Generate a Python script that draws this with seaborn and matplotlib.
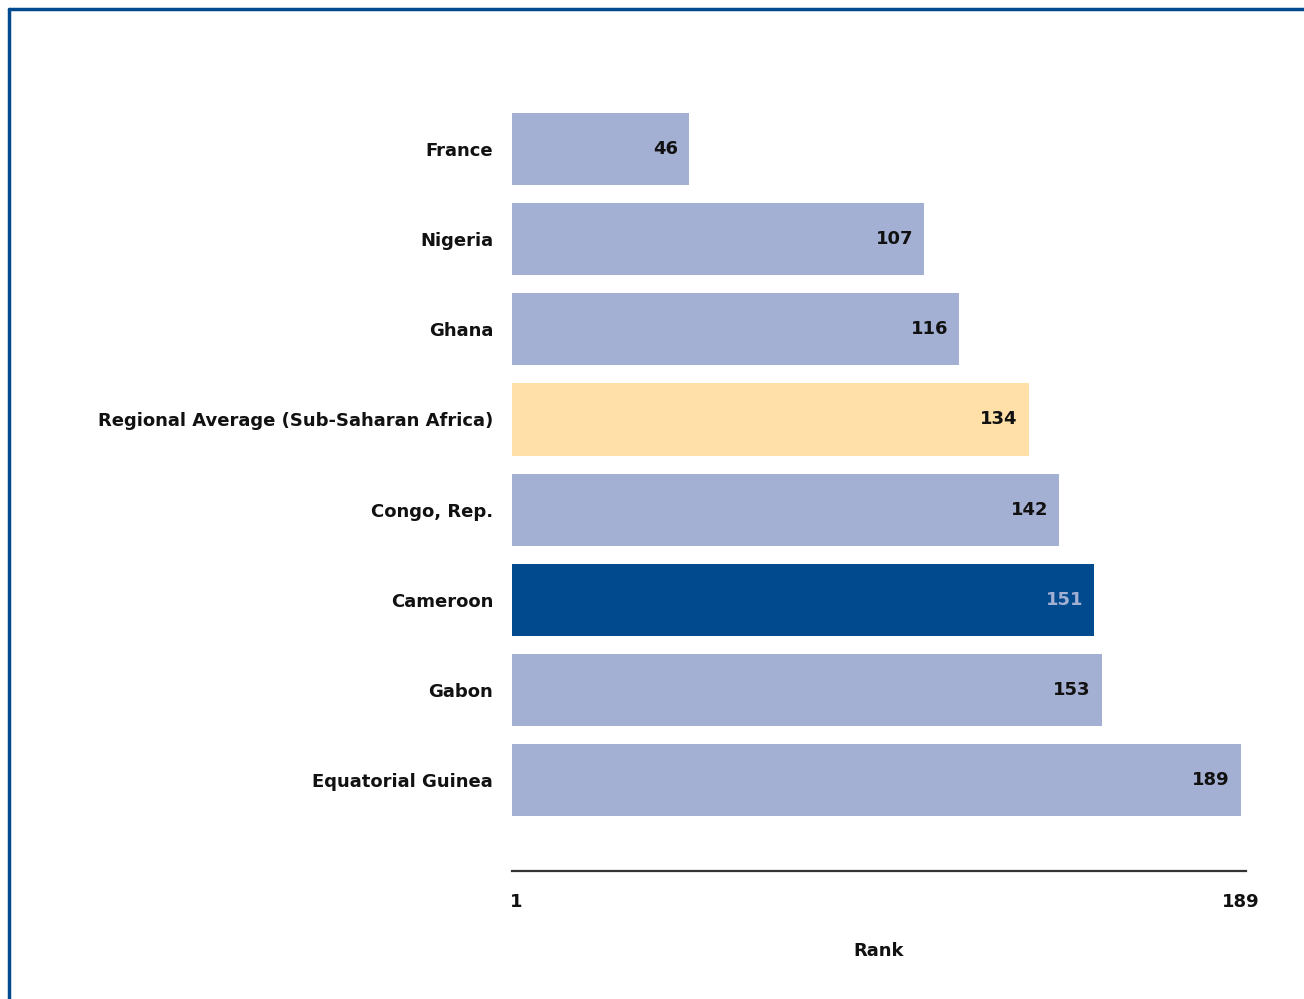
import matplotlib
matplotlib.use("Agg")
import matplotlib.pyplot as plt
import seaborn as sns
import pandas as pd
from matplotlib.lines import Line2D

economies = ["France", "Nigeria", "Ghana", "Regional Average (Sub-Saharan Africa)",
             "Congo, Rep.", "Cameroon", "Gabon", "Equatorial Guinea"]
ranks = [46, 107, 116, 134, 142, 151, 153, 189]
groups = ["other", "other", "other", "region", "other", "focus", "other", "other"]
tick_values = [1, 189]
tick_labels = ["1", "189"]

palette = {"other": "#A4B0D3", "region": "#FFE0A8", "focus": "#004A8D"}
label_colors = {"other": "#111111", "region": "#111111", "focus": "#A4B0D3"}

df = pd.DataFrame({"economy": economies, "rank": ranks, "group": groups})

sns.set_style("white")
plt.rcParams["font.family"] = ["DejaVu Sans"]
FS = 13

fig = plt.figure(figsize=(13.04, 9.99), dpi=100)
ax = fig.add_axes([512 / 1304, (999 - 871) / 999, (1246 - 512) / 1304, (871 - 95) / 999])

sns.barplot(data=df, y="economy", x="rank", hue="group", palette=palette,
            orient="h", width=0.8, dodge=False, legend=False, ax=ax,
            saturation=1, edgecolor="none")

ax.set_xlim(0, 190.4)
ax.set_ylim(8.01, -0.6)

for i, (v, g) in enumerate(zip(ranks, groups)):
    ax.annotate(str(v), xy=(v, i), xytext=(-11, 0), textcoords="offset pixels",
                ha="right", va="center", fontsize=FS, fontweight="bold",
                color=label_colors[g])

for s in ["top", "right", "left"]:
    ax.spines[s].set_visible(False)
ax.spines["bottom"].set_color("#333333")
ax.spines["bottom"].set_linewidth(1.6)

ax.set_xticks(tick_values)
ax.set_xticklabels(tick_labels, fontsize=FS, fontweight="bold", color="#111111")
ax.tick_params(axis="x", length=0, pad=16)
ax.tick_params(axis="y", length=0, pad=13.5)
for lbl in ax.get_yticklabels():
    lbl.set_fontsize(FS)
    lbl.set_fontweight("bold")
    lbl.set_color("#111111")

ax.set_ylabel("")
ax.set_xlabel("Rank", fontsize=FS, fontweight="bold", color="#111111", labelpad=22)

# frame lines on left and top of the figure
fig.add_artist(Line2D([9 / 1304, 9 / 1304], [0, (999 - 9) / 999], transform=fig.transFigure,
                      color="#004A8D", linewidth=2.5))
fig.add_artist(Line2D([9 / 1304, 1], [(999 - 9) / 999, (999 - 9) / 999], transform=fig.transFigure,
                      color="#004A8D", linewidth=2.5))

fig.savefig("out.png", dpi=100, facecolor="white")
